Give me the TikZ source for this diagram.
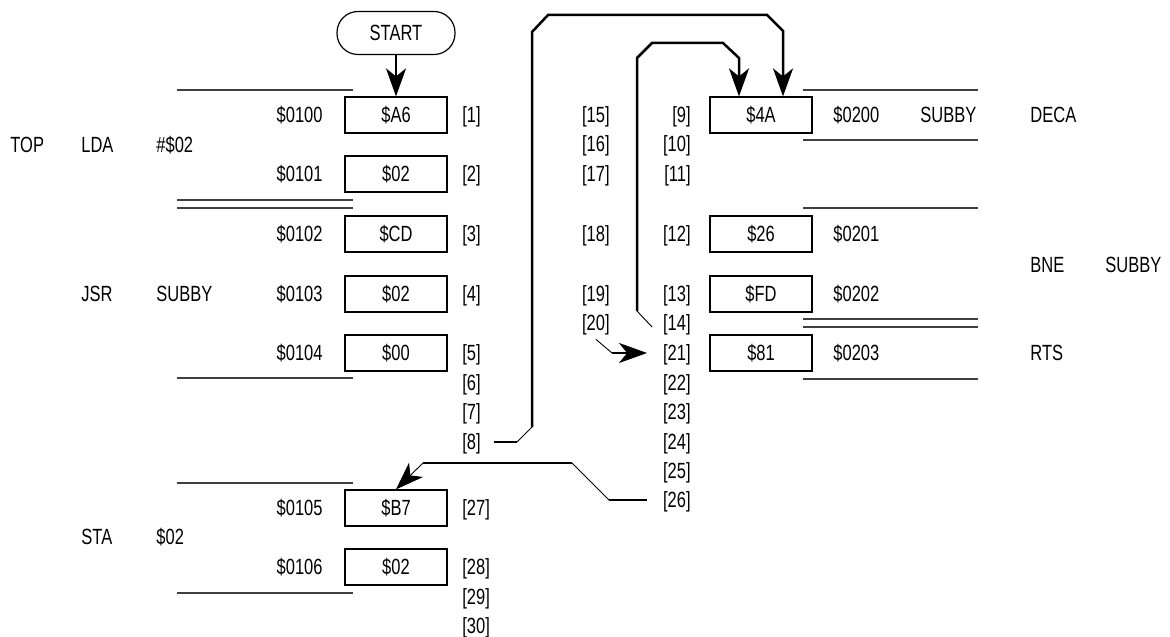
\documentclass[tikz,border=0pt]{standalone}
\usepackage{fontspec}
\setmainfont[FakeStretch=0.75]{Liberation Sans}
\usetikzlibrary{arrows.meta}

\tikzset{
  txt/.style={inner sep=0pt, text height=7.9pt, text depth=0pt},
  membox/.style={draw, line width=0.6pt, minimum width=51pt, minimum height=18pt, inner sep=0pt, text height=7.9pt, text depth=0pt},
  startbox/.style={draw, line width=0.6pt, rounded corners=10.5pt, minimum width=59pt, minimum height=21.5pt, inner sep=0pt, text height=7.9pt, text depth=0pt},
  addrl/.style={txt, anchor=east},
  addrr/.style={txt, anchor=west},
  lbl/.style={txt, anchor=west},
  sepline/.style={line width=0.6pt, black!75},
  lead/.style={line width=1.25pt},
  jog/.style={line width=0.45pt},
  tip/.style={-{Stealth[length=14pt, width=10pt, inset=4pt]}},
}

\begin{document}
\begin{tikzpicture}[x=0.5pt, y=-0.5pt, font=\fontsize{11}{13}\selectfont]
  \useasboundingbox (0,0) rectangle (1170,636);

  % main program
  \node[startbox] (start) at (396,33) {START};
  \node[membox] (bA6) at (396,115) {\$A6};
  \node[membox] (b02a) at (396,174) {\$02};
  \node[membox] (bCD) at (396,234) {\$CD};
  \node[membox] (b02b) at (396,294) {\$02};
  \node[membox] (b00) at (396,353) {\$00};
  \node[membox] (bB7) at (396,508) {\$B7};
  \node[membox] (b02c) at (396,567) {\$02};

  \node[addrl] (a0100) at (323,115) {\$0100};
  \node[addrl] (a0101) at (323,174) {\$0101};
  \node[addrl] (a0102) at (323,234) {\$0102};
  \node[addrl] (a0103) at (323,294) {\$0103};
  \node[addrl] (a0104) at (323,353) {\$0104};
  \node[addrl] (a0105) at (323,508) {\$0105};
  \node[addrl] (a0106) at (323,567) {\$0106};

  \node[lbl] (top) at (10,145) {TOP};
  \node[lbl] (lda) at (81,145) {LDA};
  \node[lbl] (imm) at (156,145) {\#\$02};
  \node[lbl] (jsr) at (81,294) {JSR};
  \node[lbl] (jsrop) at (156,294) {SUBBY};
  \node[lbl] (sta) at (81,537) {STA};
  \node[lbl] (staop) at (156,537) {\$02};

  \draw[sepline] (177,90) -- (353,90);
  \draw[sepline] (177,200) -- (353,200);
  \draw[sepline] (177,208) -- (353,208);
  \draw[sepline] (177,378) -- (353,378);
  \draw[sepline] (177,483) -- (353,483);
  \draw[sepline] (177,593) -- (353,593);

  % subroutine
  \node[membox] (b4A) at (761,115) {\$4A};
  \node[membox] (b26) at (761,234) {\$26};
  \node[membox] (bFD) at (761,294) {\$FD};
  \node[membox] (b81) at (761,353) {\$81};

  \node[addrr] (a0200) at (833,115) {\$0200};
  \node[addrr] (a0201) at (833,234) {\$0201};
  \node[addrr] (a0202) at (833,294) {\$0202};
  \node[addrr] (a0203) at (833,353) {\$0203};

  \node[lbl] (subby) at (920,115) {SUBBY};
  \node[lbl] (deca) at (1030,115) {DECA};
  \node[lbl] (bne) at (1030,265) {BNE};
  \node[lbl] (bneop) at (1105,265) {SUBBY};
  \node[lbl] (rts) at (1030,353) {RTS};

  \draw[sepline] (803,90) -- (978,90);
  \draw[sepline] (803,140) -- (978,140);
  \draw[sepline] (803,208) -- (978,208);
  \draw[sepline] (803,319) -- (978,319);
  \draw[sepline] (803,327) -- (978,327);
  \draw[sepline] (803,379) -- (978,379);

  % step numbers
  \node[txt, anchor=west] (i1) at (462,115) {[1]};
  \node[txt, anchor=west] (i2) at (462,174) {[2]};
  \node[txt, anchor=west] (i3) at (462,234) {[3]};
  \node[txt, anchor=west] (i4) at (462,294) {[4]};
  \node[txt, anchor=west] (i5) at (462,353) {[5]};
  \node[txt, anchor=west] (i6) at (462,383) {[6]};
  \node[txt, anchor=west] (i7) at (462,412) {[7]};
  \node[txt, anchor=west] (i8) at (462,442) {[8]};
  \node[txt, anchor=west] (i27) at (462,508) {[27]};
  \node[txt, anchor=west] (i28) at (462,567) {[28]};
  \node[txt, anchor=west] (i29) at (462,597) {[29]};
  \node[txt, anchor=west] (i30) at (462,626) {[30]};

  \node[txt, anchor=east] (i15) at (610,115) {[15]};
  \node[txt, anchor=east] (i16) at (610,144) {[16]};
  \node[txt, anchor=east] (i17) at (610,174) {[17]};
  \node[txt, anchor=east] (i18) at (610,234) {[18]};
  \node[txt, anchor=east] (i19) at (610,294) {[19]};
  \node[txt, anchor=east] (i20) at (610,323) {[20]};

  \node[txt, anchor=east] (i9) at (691,115) {[9]};
  \node[txt, anchor=east] (i10) at (691,144) {[10]};
  \node[txt, anchor=east] (i11) at (691,174) {[11]};
  \node[txt, anchor=east] (i12) at (691,234) {[12]};
  \node[txt, anchor=east] (i13) at (691,294) {[13]};
  \node[txt, anchor=east] (i14) at (691,323) {[14]};
  \node[txt, anchor=east] (i21) at (691,353) {[21]};
  \node[txt, anchor=east] (i22) at (691,383) {[22]};
  \node[txt, anchor=east] (i23) at (691,412) {[23]};
  \node[txt, anchor=east] (i24) at (691,442) {[24]};
  \node[txt, anchor=east] (i25) at (691,471) {[25]};
  \node[txt, anchor=east] (i26) at (691,500) {[26]};

  % flow of control
  \draw[lead, tip] (start) -- (bA6);

  \coordinate (k8) at (517,442);
  \coordinate (k8up) at (532,427);
  \draw[lead] ([xshift=6.5pt]i8.east) -- (k8);
  \draw[jog] (k8) -- (k8up);
  \draw[lead, tip] (k8up) -- (532,32) -- (548,15) -- (767,15) -- (783,31) -- (b4A.north -| 783,0);

  \coordinate (k14) at (637,311);
  \draw[jog] ([xshift=-5.3pt, yshift=-2pt]i14.west) -- (k14);
  \draw[lead, tip] (k14) -- (637,58) -- (652,43) -- (723,43) -- (739,58) -- (b4A.north -| 739,0);

  \coordinate (k20) at (612,353);
  \draw[jog] ([yshift=-4pt]i20.south) -- (k20);
  \draw[lead, tip] (k20) -- ([xshift=-7.8pt]i21.west);

  \coordinate (k26) at (609,500);
  \coordinate (k26up) at (572,463);
  \coordinate (k26end) at (423,463);
  \draw[lead] ([xshift=-7.8pt]i26.west) -- (k26);
  \draw[jog] (k26) -- (k26up);
  \draw[lead] (k26up) -- (k26end);
  \draw[jog, tip] (k26end) -- (bB7.north);
\end{tikzpicture}
\end{document}
